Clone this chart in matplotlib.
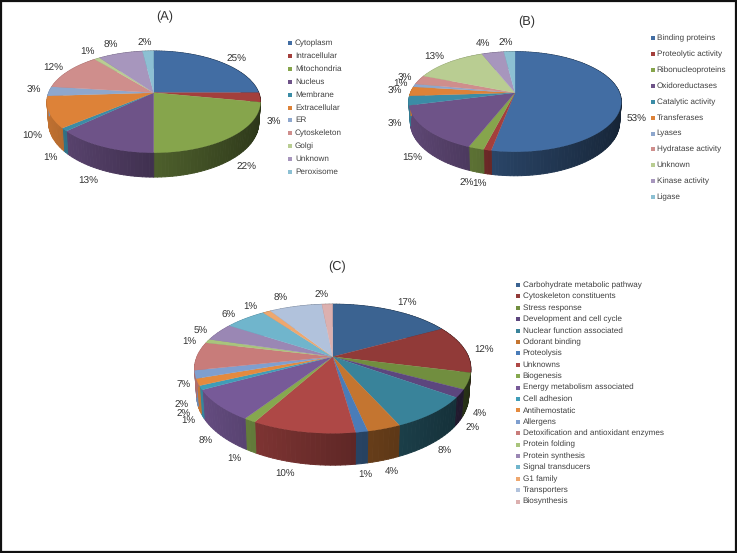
import numpy as np
import matplotlib
matplotlib.use('Agg')
import matplotlib.pyplot as plt
from matplotlib.collections import PolyCollection
from matplotlib.patches import Rectangle

plt.rcParams['font.family'] = ['Liberation Sans', 'DejaVu Sans']
plt.rcParams['text.hinting'] = 'no_hinting'

# (A) subcellular location
a_names = ['Cytoplasm', 'Intracellular', 'Mitochondria', 'Nucleus', 'Membrane', 'Extracellular',
           'ER', 'Cytoskeleton', 'Golgi', 'Unknown', 'Peroxisome']
a_values = [25, 3, 22, 13, 1, 10, 3, 12, 1, 8, 2]
a_labels = ['25%', '3%', '22%', '13%', '1%', '10%', '3%', '12%', '1%', '8%', '2%']

# (B) molecular function
b_names = ['Binding proteins', 'Proteolytic activity', 'Ribonucleoproteins', 'Oxidoreductases',
           'Catalytic activity', 'Transferases', 'Lyases', 'Hydratase activity', 'Unknown',
           'Kinase activity', 'Ligase']
b_values = [53, 1, 2, 15, 3, 3, 1, 3, 13, 4, 2]
b_labels = ['53%', '1%', '2%', '15%', '3%', '3%', '1%', '3%', '13%', '4%', '2%']

c_names = ['Carbohydrate metabolic pathway', 'Cytoskeleton constituents', 'Stress response',
           'Development and cell cycle', 'Nuclear function associated', 'Odorant binding',
           'Proteolysis', 'Unknowns', 'Biogenesis', 'Energy metabolism associated', 'Cell adhesion',
           'Antihemostatic', 'Allergens', 'Detoxification and antioxidant enzymes', 'Protein folding',
           'Protein synthesis', 'Signal transducers', 'G1 family', 'Transporters', 'Biosynthesis']
c_values = [17, 12, 4, 2, 8.4, 3.3, 1.2, 10.2, 1.2, 7.8, 1, 1.7, 2, 7.1, 1, 4.5, 5.8, 1.1, 7.4, 1.5]
c_labels = ['17%', '12%', '4%', '2%', '8%', '4%', '1%', '10%', '1%', '8%', '1%', '2%', '2%', '7%',
            '1%', '5%', '6%', '1%', '8%', '2%']

# colours
a_colors = ['#426da3', '#a43f3c', '#86a54c', '#6e5388', '#3b8ca6', '#dd8238',
            '#8ea7cd', '#cf8e8c', '#b9cd92', '#a796bd', '#8cc0d3']
b_colors = a_colors
c_colors = ['#3b6391', '#913a38', '#718e3f', '#5c467e', '#39839a', '#c47530',
            '#4a7cb8', '#ae4846', '#86a84f', '#775a98', '#3f9db8', '#e48a3e',
            '#7f9fcf', '#c87c7a', '#a9c47c', '#9a87b4', '#70b5cc', '#eea76e',
            '#b1c2dc', '#dcb0af']

# layout in pixels of the 737x553 picture
a_pos = [(236.7, 59), (273.7, 122), (247, 167.7), (88.3, 181), (50.7, 158), (32.7, 136),
         (33.7, 90.3), (53, 68), (87.3, 52.7), (110.7, 45.7), (144.3, 43.3)]
b_pos = [(636.3, 119.3), (479, 184.7), (466.7, 183.3), (412, 158.7), (395.3, 124.7), (395.3, 91.7),
         (400, 84), (405, 78.3), (434.3, 57.7), (482.7, 44.7), (505.7, 43.3)]
c_pos = [(407, 303.3), (484.3, 350), (480, 414.3), (472.3, 428.3), (445, 451.7), (391.7, 472.3),
         (365.3, 475), (285.3, 474), (234.7, 459.7), (205.7, 441.3), (188.7, 421), (184, 414.3),
         (181.3, 405.3), (184, 385.3), (189.7, 342.3), (201, 331.7), (229, 315.7), (250.3, 307),
         (280.3, 298.3), (322, 295.7)]


def project(t, cx, cy, rx, ry, k, depth=0.0, shrink=1.0):
    # t is clockwise from 12 o'clock, perspective moves the apex above the ellipse centre
    X = np.sin(t)
    Y = -np.cos(t)
    w = 1 - k * Y
    return cx + shrink * rx * X / w, cy + (ry * Y + depth) / w


def side_shade(x):
    return np.interp(x, [-1, 0, 1], [0.88, 0.58, 0.32])


def pie3d(ax, values, colors, cx, cy, rx, ry, depth, k):
    fracs = np.array(values, dtype=float)
    edges = np.concatenate([[0], np.cumsum(fracs) / fracs.sum()]) * 2 * np.pi

    # side wall, each facet gets a thin edge of its own colour so no seams show
    polys, cols = [], []
    for i in range(len(fracs)):
        n = max(int((edges[i + 1] - edges[i]) / 0.03), 1)
        ts = np.linspace(edges[i], edges[i + 1], n + 1)
        for t0, t1 in zip(ts[:-1], ts[1:]):
            x0, y0 = project(t0, cx, cy, rx, ry, k)
            x1, y1 = project(t1, cx, cy, rx, ry, k)
            x2, y2 = project(t1, cx, cy, rx, ry, k, depth, 0.985)
            x3, y3 = project(t0, cx, cy, rx, ry, k, depth, 0.985)
            polys.append([(x0, y0), (x1, y1), (x2, y2), (x3, y3)])
            s = side_shade(np.sin((t0 + t1) / 2))
            cols.append(np.array(matplotlib.colors.to_rgb(colors[i])) * s)
    pc = PolyCollection(polys, facecolors=cols, edgecolors=cols, linewidths=0.7)
    ax.add_collection(pc)

    # top face
    for i in range(len(fracs)):
        ts = np.linspace(edges[i], edges[i + 1], 60)
        xs, ys = project(ts, cx, cy, rx, ry, k)
        ax.fill(np.r_[cx, xs], np.r_[cy, ys], color=colors[i], lw=0.2)


def legend(ax, names, colors, x_box, x_text, y0, dy, size):
    for i, name in enumerate(names):
        y = y0 + i * dy
        ax.add_patch(Rectangle((x_box - 2, y - 2), 4, 4, color=colors[i], lw=0))
        ax.text(x_text, y, name, fontsize=size, color='#404040', ha='left', va='center')


def point_labels(ax, labels, pos, size):
    for lab, (x, y) in zip(labels, pos):
        ax.text(x, y, lab, fontsize=size, color='#333333', ha='center', va='center')


fig = plt.figure(figsize=(7.37, 5.53), dpi=100)
ax = fig.add_axes([0, 0, 1, 1])
ax.set_xlim(0, 737)
ax.set_ylim(553, 0)
ax.axis('off')

pie3d(ax, a_values, a_colors, 153.7, 92.7, 105, 49.2, 20, 0.18)
point_labels(ax, a_labels, a_pos, 7.2)
legend(ax, a_names, a_colors, 290, 295, 43.3, 12.84, 5.85)
ax.text(165, 16.7, '(A)', fontsize=9.2, color='#333333', ha='center', va='center')

pie3d(ax, b_values, b_colors, 515, 92.7, 104.5, 48.4, 19.7, 0.18)
point_labels(ax, b_labels, b_pos, 7.2)
legend(ax, b_names, b_colors, 653, 656.7, 38.3, 15.87, 5.9)
ax.text(527, 22.3, '(B)', fontsize=9.2, color='#333333', ha='center', va='center')

pie3d(ax, c_values, c_colors, 332.7, 356.7, 135.7, 62.3, 26, 0.186)
point_labels(ax, c_labels, c_pos, 7)
legend(ax, c_names, c_colors, 518, 522.7, 285, 11.4, 5.9)
ax.text(337.3, 266.7, '(C)', fontsize=9.2, color='#333333', ha='center', va='center')

# picture frame
ax.add_patch(Rectangle((0.5, 0.5), 735.7, 551.2, fill=False, edgecolor='#111111', lw=1.6, clip_on=False))

plt.savefig('out.png', dpi=100)
